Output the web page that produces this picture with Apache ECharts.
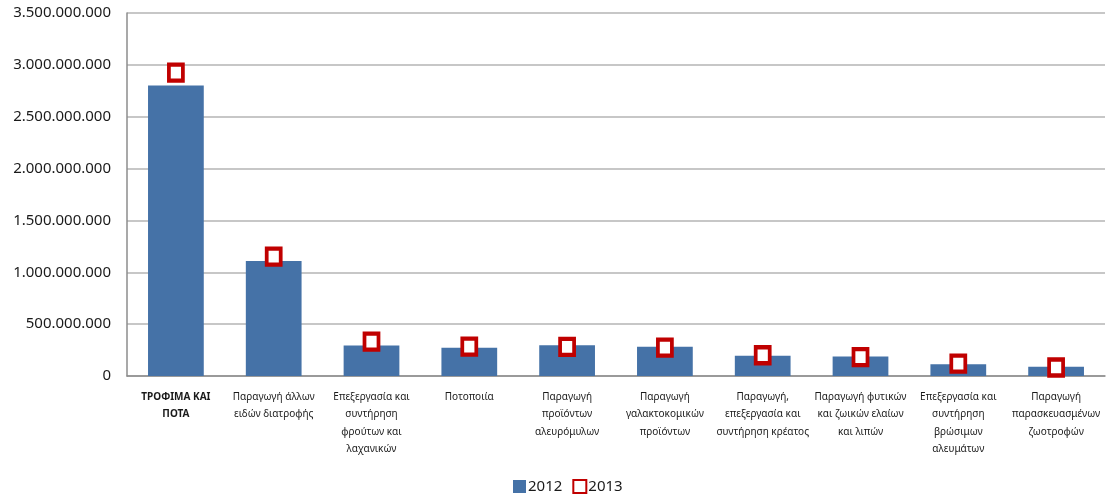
<!DOCTYPE html>
<html>
<head>
<meta charset="utf-8">
<script src="https://cdn.jsdelivr.net/npm/echarts@6/dist/echarts.min.js"></script>
<style>html,body{margin:0;padding:0;background:#fff}#c{width:1108px;height:495px}</style>
</head>
<body>
<div id="c"></div>
<script>
const categories = [
  "ΤΡΟΦΙΜΑ ΚΑΙ\nΠΟΤΑ",
  "Παραγωγή άλλων\nειδών διατροφής",
  "Επεξεργασία και\nσυντήρηση\nφρούτων και\nλαχανικών",
  "Ποτοποιία",
  "Παραγωγή\nπροϊόντων\nαλευρόμυλων",
  "Παραγωγή\nγαλακτοκομικών\nπροϊόντων",
  "Παραγωγή,\nεπεξεργασία και\nσυντήρηση κρέατος",
  "Παραγωγή φυτικών\nκαι ζωικών ελαίων\nκαι λιπών",
  "Επεξεργασία και\nσυντήρηση\nβρώσιμων\nαλευμάτων",
  "Παραγωγή\nπαρασκευασμένων\nζωοτροφών"
];
const values2012 = [2802000000, 1110000000, 293000000, 273000000, 296000000, 283000000, 196000000, 187000000, 113000000, 89000000];
const values2013 = [2925000000, 1152000000, 331000000, 283000000, 280000000, 273000000, 200000000, 183000000, 119000000, 82000000];
const seriesNames = ["2012", "2013"];

function fmt(v) {
  return String(Math.round(v)).replace(/\B(?=(\d{3})+(?!\d))/g, ".");
}

const chart = echarts.init(document.getElementById('c'));
chart.setOption({
  animation: false,
  textStyle: { fontFamily: "Noto Sans" },
  grid: { left: 127, right: 3, top: 13, bottom: 119, containLabel: false },
  legend: {
    top: 474,
    left: 508,
    itemGap: 10,
    itemWidth: 13,
    itemHeight: 13,
    textStyle: { fontSize: 15, color: '#1a1a1a', fontFamily: 'Noto Sans', padding: [0, 0, 0, -3] },
    data: [
      { name: seriesNames[0], icon: 'rect' },
      { name: seriesNames[1], icon: 'rect' }
    ]
  },
  xAxis: {
    type: 'category',
    data: categories,
    axisLine: { lineStyle: { color: '#8c8c8c', width: 1.5 } },
    axisTick: { show: false },
    axisLabel: {
      interval: 0,
      fontSize: 10,
      lineHeight: 17.5,
      color: '#1a1a1a',
      margin: 12,
      align: 'center',
      formatter: function (v, i) {
        if (i === 0) {
          return v.split('\n').map(function (s) { return '{b|' + s + '}'; }).join('\n');
        }
        return v;
      },
      rich: {
        b: { fontSize: 10, fontWeight: 'bold', lineHeight: 17.5, color: '#1a1a1a' }
      }
    }
  },
  yAxis: {
    type: 'value',
    min: 0,
    max: 3500000000,
    interval: 500000000,
    axisLine: { show: true, lineStyle: { color: '#8c8c8c', width: 1.5 } },
    axisTick: { show: false },
    splitLine: { lineStyle: { color: '#b5b5b5', width: 1.5 } },
    axisLabel: {
      fontSize: 15,
      color: '#1a1a1a',
      margin: 16,
      formatter: fmt
    }
  },
  series: [
    {
      name: seriesNames[0],
      type: 'bar',
      data: values2012,
      barWidth: '57%',
      itemStyle: { color: '#4572A7' }
    },
    {
      name: seriesNames[1],
      type: 'scatter',
      data: values2013,
      symbol: 'rect',
      symbolSize: [14, 16],
      z: 5,
      itemStyle: { color: '#ffffff', borderColor: '#C00000', borderWidth: 4, opacity: 1 }
    }
  ]
});
</script>
</body>
</html>
